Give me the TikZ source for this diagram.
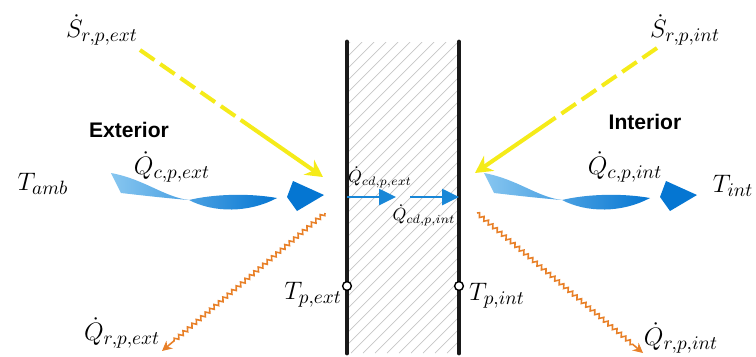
\documentclass[tikz,border=0pt]{standalone}
\usepackage{amsmath}
\usepackage{fontspec}
\newfontfamily\sansbold{Liberation Sans}
\usepackage{tikz}
\usetikzlibrary{arrows.meta,positioning,calc,decorations.pathmorphing}
\definecolor{solarcol}{RGB}{245,235,25}
\definecolor{radcol}{RGB}{232,128,40}
\definecolor{condcol}{RGB}{25,135,215}
\definecolor{flowlight}{RGB}{135,198,240}
\definecolor{flowdark}{RGB}{5,118,210}
\tikzset{
  wallln/.style={line width=2.8pt, line cap=round, black!90},
  hatchln/.style={line width=0.4pt, gray!45},
  solarln/.style={line width=2.3pt, solarcol},
  solardash/.style={solarln, dash pattern=on 10pt off 4pt},
  solartip/.style={solarln, -{Stealth[length=3.4mm,width=3.6mm]}},
  radln/.style={line width=0.9pt, radcol, -{Stealth[length=2mm,width=2mm]},
    decorate, decoration={snake, amplitude=1.1pt, segment length=3.3pt, post length=2.5mm}},
  condln/.style={line width=1.5pt, condcol, -{Triangle[length=3.4mm,width=3.2mm]}},
  lbl/.style={inner sep=0pt, font=\fontsize{15.5}{18}\selectfont},
  smlbl/.style={inner sep=0pt, font=\normalsize},
  zonelbl/.style={inner sep=0pt, font=\sansbold\bfseries\large},
  tempdot/.style={draw=black, fill=white, circle, inner sep=0pt, minimum size=5pt, line width=0.8pt},
}
% convective flow shape, tip at #1
\newcommand{\convflow}[1]{%
  \begin{scope}[shift={(#1)}]
    \shade[left color=flowlight, right color=flowdark]
      (-213,-22) .. controls (-180,-16) and (-160,2) .. (-135,5)
      .. controls (-160,3) and (-185,0) .. (-203,-2) -- cycle
      (-135,5) .. controls (-110,-1) and (-75,-2) .. (-47,3)
      .. controls (-75,18) and (-110,18) .. (-135,5) -- cycle;
    \fill[flowdark] (-37,2) -- (-31,-14) -- (0,0) -- (-27,16) -- cycle;
  \end{scope}
}

\begin{document}
\begin{tikzpicture}[x=0.02cm, y=-0.02cm]
  \useasboundingbox (0,0) rectangle (756,356);
  % wall hatching
  \begin{scope}
    \clip (347,42) rectangle (459,353);
    \foreach \i in {-320,-308,...,120}
      \draw[hatchln] (347+\i,353) -- ++(311,-311);
  \end{scope}
  % walls
  \coordinate (wext0) at (347,42);  \coordinate (wext1) at (347,353);
  \coordinate (wint0) at (459,42);  \coordinate (wint1) at (459,353);
  \draw[wallln] (wext0) -- (wext1);
  \draw[wallln] (wint0) -- (wint1);
  % surface temperatures
  \node[tempdot] (pext) at (347,286) {};
  \node[tempdot] (pint) at (459,286) {};
  \node[lbl] (Tpext) at (313,295) {$T_{p,ext}$};
  \node[lbl] (Tpint) at (497,296) {$T_{p,int}$};
  % labels
  \node[lbl] (Sext) at (102,30) {$\dot S_{r,p,ext}$};
  \node[lbl] (Sint) at (685,30) {$\dot S_{r,p,int}$};
  \node[zonelbl] (extr) at (129,130) {Exterior};
  \node[zonelbl] (intr) at (645,122) {Interior};
  \node[lbl] (Tamb) at (43,184) {$T_{amb}$};
  \node[lbl] (Tint) at (733,186) {$T_{int}$};
  \node[lbl] (Qcext) at (172,167) {$\dot Q_{c,p,ext}$};
  \node[lbl] (Qcint) at (625,167) {$\dot Q_{c,p,int}$};
  \node[lbl] (Qrext) at (122,333) {$\dot Q_{r,p,ext}$};
  \node[lbl] (Qrint) at (681,338) {$\dot Q_{r,p,int}$};
  \node[smlbl] (Qcdext) at (380,177) {$\dot Q_{cd,p,ext}$};
  \node[smlbl] (Qcdint) at (424,215) {$\dot Q_{cd,p,int}$};
  % solar gains
  \coordinate (sext0) at (140,50);  \coordinate (sext1) at (323,177);
  \coordinate (sint0) at (657,48);  \coordinate (sint1) at (475,173);
  \coordinate (sextm) at ($(sext0)!0.55!(sext1)$);
  \coordinate (sintm) at ($(sint0)!0.57!(sint1)$);
  \draw[solardash] (sext0) -- (sextm);
  \draw[solartip] (sextm) -- (sext1);
  \draw[solardash] (sint0) -- (sintm);
  \draw[solartip] (sintm) -- (sint1);
  % convection
  \coordinate (cext) at (324,195);
  \coordinate (cint) at (697,195);
  \convflow{cext}
  \convflow{cint}
  % conduction
  \coordinate (dext0) at (347,197); \coordinate (dext1) at (396,197);
  \coordinate (dint0) at (410,197); \coordinate (dint1) at (459,197);
  \draw[condln] (dext0) -- (dext1);
  \draw[condln] (dint0) -- (dint1);
  % long wave radiation
  \coordinate (rext0) at (325,213); \coordinate (rext1) at (162,351);
  \coordinate (rint0) at (477,213); \coordinate (rint1) at (643,353);
  \draw[radln] (rext0) -- (rext1);
  \draw[radln] (rint0) -- (rint1);
\end{tikzpicture}
\end{document}
